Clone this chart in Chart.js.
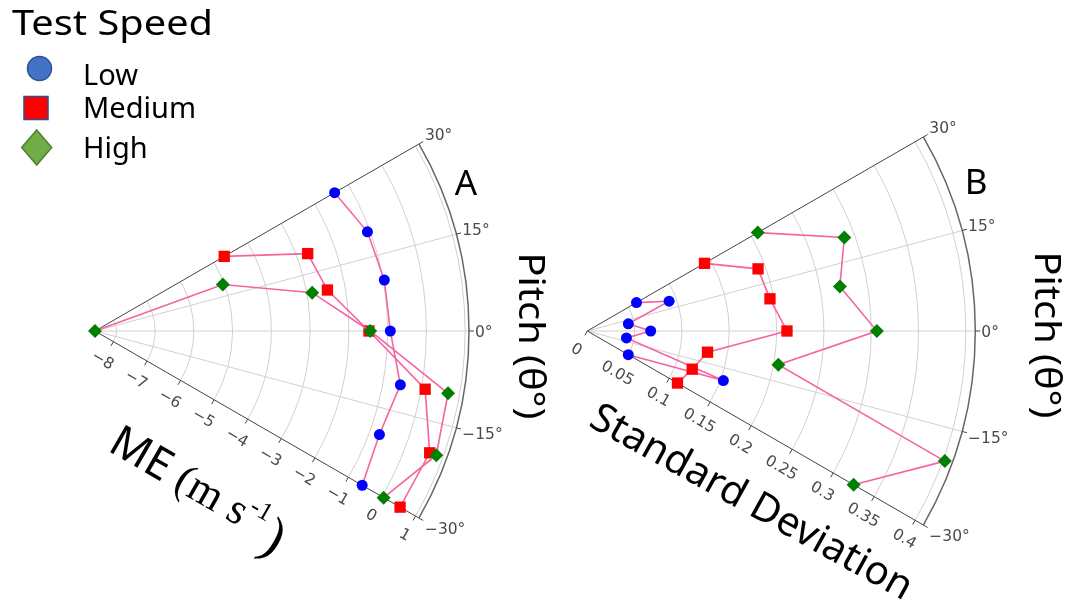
<!DOCTYPE html>
<html>
<head>
<meta charset="utf-8">
<script src="https://cdn.jsdelivr.net/npm/chart.js@4.4.1/dist/chart.umd.min.js"></script>
<style>
html, body { margin: 0; padding: 0; background: #fff; }
#wrap { position: relative; width: 1067px; height: 608px; overflow: hidden; }
canvas { position: absolute; left: 0; top: 0; }
</style>
</head>
<body>
<div id="wrap">
  <canvas id="chartA" width="1067" height="608"></canvas>
  <canvas id="chartB" width="1067" height="608"></canvas>
</div>
<script>
// pitch angle of each measurement (degrees)
const pitchAngles = [30, 20, 10, 0, -10, -20, -30];
const speedNames = ['Low', 'Medium', 'High'];

// A: mean error (m s-1)
const meLow    = [-1.41, -1.07, -0.97, -0.93, -0.55, -0.74, -0.59];
const meMedium = [-4.70, -2.71, -2.46, -1.48,  0.10,  0.64,  0.54];
const meHigh   = [-8.55, -5.04, -2.86, -1.45,  0.70,  0.82,  0.05];

// B: standard deviation
const sdLow    = [0.060, 0.092, 0.044, 0.067, 0.042, 0.153, 0.050];
const sdMedium = [0.143, 0.192, 0.196, 0.211, 0.129, 0.118, 0.110];
const sdHigh   = [0.208, 0.289, 0.271, 0.306, 0.205, 0.402, 0.325];

const meTicks = [-8, -7, -6, -5, -4, -3, -2, -1, 0, 1];
const meTickLabels = ['\u22128', '\u22127', '\u22126', '\u22125', '\u22124', '\u22123', '\u22122', '\u22121', '0', '1'];
const sdTicks = [0, 0.05, 0.1, 0.15, 0.2, 0.25, 0.3, 0.35, 0.4];
const sdTickLabels = ['0', '0.05', '0.1', '0.15', '0.2', '0.25', '0.3', '0.35', '0.4'];
const angleTicks = [30, 15, 0, -15, -30];
const angleTickLabels = ['30\u00b0', '15\u00b0', '0\u00b0', '\u221215\u00b0', '\u221230\u00b0'];

const lineColor = 'rgb(245, 100, 160)';
const markerColors = ['#0000ff', '#ff0000', '#008000'];
const markerStyles = ['circle', 'rect', 'rectRot'];
const markerRadius = [5.5, 8, 7];

function toXY(values, rMin) {
    return values.map(function(r, i) {
        const t = pitchAngles[i] * Math.PI / 180;
        return { x: (r - rMin) * Math.cos(t), y: (r - rMin) * Math.sin(t) };
    });
}

function drawText(ctx, txt, x, y, o) {
    ctx.save();
    ctx.translate(x, y);
    ctx.rotate((o.angle || 0) * Math.PI / 180);
    ctx.font = o.font;
    ctx.fillStyle = o.color || '#000';
    ctx.textAlign = o.align || 'center';
    ctx.textBaseline = o.baseline || 'middle';
    if (o.width) {
        const w = ctx.measureText(txt).width;
        ctx.scale(o.width / w, 1);
    }
    ctx.fillText(txt, 0, 0);
    ctx.restore();
}

// sector grid drawn from the chart's own x/y scales
const polarGrid = {
    id: 'polarGrid',
    beforeDatasetsDraw(chart, args, opts) {
        const ctx = chart.ctx;
        const xs = chart.scales.x, ys = chart.scales.y;
        const cx = xs.getPixelForValue(0), cy = ys.getPixelForValue(0);
        const k = xs.getPixelForValue(1) - cx;
        const R = (opts.rMax - opts.rMin) * k;
        const a30 = Math.PI / 6;
        ctx.save();

        ctx.strokeStyle = '#d0d0d0';
        ctx.lineWidth = 1;
        opts.ticks.forEach(function(v) {
            const rr = (v - opts.rMin) * k;
            if (rr <= 0.5 || rr >= R - 0.5) return;
            ctx.beginPath();
            ctx.arc(cx, cy, rr, -a30, a30);
            ctx.stroke();
        });
        angleTicks.forEach(function(a) {
            if (Math.abs(a) === 30) return;
            const t = a * Math.PI / 180;
            ctx.beginPath();
            ctx.moveTo(cx, cy);
            ctx.lineTo(cx + R * Math.cos(t), cy - R * Math.sin(t));
            ctx.stroke();
        });

        // sector edges and outer arc
        ctx.strokeStyle = '#444';
        ctx.beginPath();
        ctx.moveTo(cx + R * Math.cos(a30), cy - R * Math.sin(a30));
        ctx.lineTo(cx, cy);
        ctx.lineTo(cx + R * Math.cos(a30), cy + R * Math.sin(a30));
        ctx.stroke();
        ctx.strokeStyle = '#666';
        ctx.lineWidth = 1.5;
        ctx.beginPath();
        ctx.arc(cx, cy, R, -a30, a30);
        ctx.stroke();

        // angular ticks
        ctx.lineWidth = 1;
        ctx.strokeStyle = '#444';
        ctx.fillStyle = '#4a4a4a';
        ctx.font = '15.5px "DejaVu Sans"';
        ctx.textAlign = 'left';
        ctx.textBaseline = 'middle';
        angleTicks.forEach(function(a, i) {
            const t = a * Math.PI / 180, c = Math.cos(t), s = Math.sin(t);
            ctx.beginPath();
            ctx.moveTo(cx + R * c, cy - R * s);
            ctx.lineTo(cx + (R + 5) * c, cy - (R + 5) * s);
            ctx.stroke();
            ctx.fillText(angleTickLabels[i], cx + R * c + 6, cy - R * s - s * 20 + 2);
        });

        // radial ticks along the lower edge
        const ex = Math.cos(a30), ey = Math.sin(a30);
        const nx = -ey, ny = ex;
        ctx.textAlign = 'center';
        opts.ticks.forEach(function(v, i) {
            const rr = (v - opts.rMin) * k;
            const px = cx + rr * ex, py = cy + rr * ey;
            ctx.beginPath();
            ctx.moveTo(px, py);
            ctx.lineTo(px + 5 * nx, py + 5 * ny);
            ctx.stroke();
            ctx.save();
            ctx.translate(px + 22 * nx, py + 22 * ny);
            ctx.rotate(a30);
            ctx.fillText(opts.tickLabels[i], 0, 0);
            ctx.restore();
        });
        ctx.restore();
    }
};

// titles, legend and axis names
const decor = {
    id: 'decor',
    afterDraw(chart, args, opts) {
        const ctx = chart.ctx;
        if (opts.which === 'A') {
            drawText(ctx, 'Test Speed', 12, 35, { font: '35px "Noto Sans"', align: 'left', baseline: 'alphabetic', width: 201 });
            const base = [85, 118, 158];
            speedNames.forEach(function(n, i) {
                drawText(ctx, n, 83, base[i], { font: '29px "Noto Sans"', align: 'left', baseline: 'alphabetic' });
            });
            ctx.save();
            ctx.lineWidth = 1.5;
            ctx.fillStyle = '#4472c4'; ctx.strokeStyle = '#2f528f';
            ctx.beginPath(); ctx.arc(39.5, 68.5, 12, 0, Math.PI * 2); ctx.fill(); ctx.stroke();
            ctx.fillStyle = '#ff0000';
            ctx.fillRect(24, 96.5, 24, 23); ctx.strokeRect(24, 96.5, 24, 23);
            ctx.fillStyle = '#70ad47'; ctx.strokeStyle = '#507e32';
            ctx.beginPath();
            ctx.moveTo(36.7, 130); ctx.lineTo(51.7, 147.5); ctx.lineTo(36.7, 165); ctx.lineTo(21.7, 147.5);
            ctx.closePath(); ctx.fill(); ctx.stroke();
            ctx.restore();

            drawText(ctx, 'A', 466, 185, { font: '35px "Noto Sans"' });
            drawText(ctx, 'Pitch (\u03b8\u00b0)', 530, 336, { font: '37px "Noto Sans"', angle: 90, width: 167 });

            // ME (m s-1) along the lower edge
            ctx.save();
            ctx.translate(114, 437);
            ctx.rotate(Math.PI / 6);
            ctx.fillStyle = '#000';
            ctx.textAlign = 'left';
            ctx.textBaseline = 'alphabetic';
            let x = 0;
            ctx.font = '44px "Noto Sans"';
            ctx.fillText('ME', x, 15); x += ctx.measureText('ME').width;
            ctx.font = '44px "Liberation Serif"';
            ctx.fillText(' (m s', x, 15); x += ctx.measureText(' (m s').width;
            ctx.font = '26px "Liberation Serif"';
            ctx.fillText('-1', x + 1, -3); x += ctx.measureText('-1').width + 6;
            ctx.font = '54px "Liberation Serif"';
            ctx.fillText(')', x, 24);
            ctx.restore();
        } else {
            drawText(ctx, 'B', 976, 184, { font: '35px "Noto Sans"' });
            drawText(ctx, 'Pitch (\u03b8\u00b0)', 1046, 335, { font: '37px "Noto Sans"', angle: 90, width: 167 });
            drawText(ctx, 'Standard Deviation', 751, 503, { font: '40px "Noto Sans"', angle: 29, width: 362 });
        }
    }
};

function makeChart(id, which, series, rMin, rMax, ticks, tickLabels, pad) {
    const span = rMax - rMin;
    const datasets = series.map(function(vals, i) {
        return {
            label: speedNames[i],
            data: toXY(vals, rMin),
            showLine: true,
            borderColor: lineColor,
            borderWidth: 1.6,
            pointStyle: markerStyles[i],
            pointRadius: markerRadius[i],
            pointBackgroundColor: markerColors[i],
            pointBorderColor: markerColors[i],
            pointBorderWidth: 0,
            order: 2 - i,
            clip: false
        };
    });
    return new Chart(document.getElementById(id), {
        type: 'scatter',
        data: { datasets: datasets },
        options: {
            responsive: false,
            animation: false,
            devicePixelRatio: 1,
            events: [],
            layout: { padding: pad },
            plugins: {
                legend: { display: false },
                tooltip: { enabled: false },
                polarGrid: { rMin: rMin, rMax: rMax, ticks: ticks, tickLabels: tickLabels },
                decor: { which: which }
            },
            scales: {
                x: { type: 'linear', display: false, min: 0, max: span },
                y: { type: 'linear', display: false, min: -span / 2, max: span / 2 }
            }
        },
        plugins: [polarGrid, decor]
    });
}

// A: origin (95, 331), radius 374 px; B: origin (587.3, 331), radius 388 px
makeChart('chartA', 'A', [meLow, meMedium, meHigh], -8.55, 1.1, meTicks, meTickLabels,
    { left: 95, right: 598, top: 144, bottom: 90 });
makeChart('chartB', 'B', [sdLow, sdMedium, sdHigh], 0, 0.41, sdTicks, sdTickLabels,
    { left: 587.3, right: 91.7, top: 137, bottom: 83 });
</script>
</body>
</html>
